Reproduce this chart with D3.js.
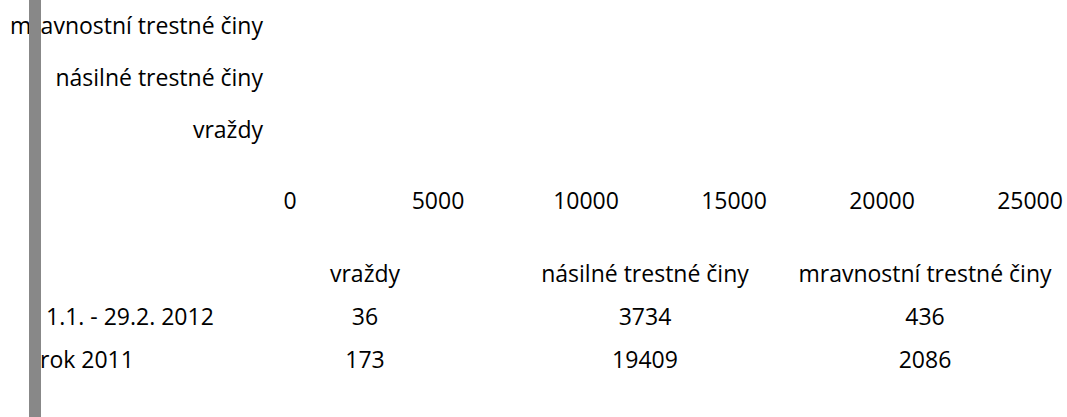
<!DOCTYPE html>
<html lang="cs">
  <head>
    <meta charset="UTF-8" />
    <title>Trestné činy 2011 - 2012</title>
    <script src="https://d3js.org/d3.v7.min.js"></script>
    <style>
      body {
        margin: 0;
        background-color: #fff;
      }
      svg text {
        font-family: "Open Sans", sans-serif;
        font-size: 23px;
        fill: #000;
        white-space: pre;
      }
    </style>
  </head>
  <body>
    <div id="chart"></div>
    <script>
      // data
      const categories = ["mravnostní trestné činy", "násilné trestné činy", "vraždy"];
      const tableColumns = ["vraždy", "násilné trestné činy", "mravnostní trestné činy"];
      const seriesNames = [" 1.1. - 29.2. 2012", "rok 2011"];
      const values2012 = [36, 3734, 436]; // vraždy, násilné, mravnostní
      const values2011 = [173, 19409, 2086];
      const tickValues = [0, 5000, 10000, 15000, 20000, 25000];

      const width = 1067;
      const height = 417;

      const svg = d3
        .select("#chart")
        .append("svg")
        .attr("width", width)
        .attr("height", height);

      // scales
      const x = d3.scaleLinear().domain([0, 25000]).range([289.5, 1029.5]);
      const y = d3.scaleBand().domain(categories).range([0, 156]);
      const ySeries = d3.scaleBand().domain(seriesNames).range([0, y.bandwidth()]).padding(0.2);

      // bars (the source chart shows them without fill)
      const allSeries = [values2012, values2011];
      allSeries.forEach((vals, si) => {
        svg
          .append("g")
          .selectAll("rect")
          .data(tableColumns)
          .join("rect")
          .attr("x", x(0))
          .attr("y", (c) => y(c) + ySeries(seriesNames[si]))
          .attr("width", (c, i) => x(vals[i]) - x(0))
          .attr("height", ySeries.bandwidth())
          .attr("fill", "none");
      });

      // category labels
      svg
        .append("g")
        .selectAll("text")
        .data(categories)
        .join("text")
        .attr("x", 263)
        .attr("y", (d) => y(d) + y.bandwidth() / 2)
        .attr("dy", "0.35em")
        .attr("text-anchor", "end")
        .text((d) => d);

      // value axis
      const axis = svg
        .append("g")
        .attr("transform", "translate(0,190)")
        .call(d3.axisBottom(x).tickValues(tickValues).tickSize(0).tickPadding(3).tickFormat(d3.format("d")));
      axis.select(".domain").remove();
      axis.selectAll("text").attr("font-family", null).attr("font-size", null);

      // data table
      const col = d3.scaleBand().domain(tableColumns).range([225, 1065]);
      const row = d3.scaleBand().domain(["", ...seriesNames]).range([252, 381]);

      svg
        .append("g")
        .selectAll("text")
        .data(tableColumns)
        .join("text")
        .attr("x", (d) => col(d) + col.bandwidth() / 2)
        .attr("y", row("") + row.bandwidth() / 2)
        .attr("dy", "0.35em")
        .attr("text-anchor", "middle")
        .text((d) => d);

      allSeries.forEach((vals, si) => {
        const name = seriesNames[si];
        const g = svg.append("g");
        g.append("text")
          .attr("x", 40)
          .attr("y", row(name) + row.bandwidth() / 2)
          .attr("dy", "0.35em")
          .text(name);
        g.selectAll("text.val")
          .data(vals)
          .join("text")
          .attr("class", "val")
          .attr("x", (d, i) => col(tableColumns[i]) + col.bandwidth() / 2)
          .attr("y", row(name) + row.bandwidth() / 2)
          .attr("dy", "0.35em")
          .attr("text-anchor", "middle")
          .text((d) => d);
      });

      // grey vertical bar on the left edge, drawn over the labels
      svg
        .append("rect")
        .attr("x", 29)
        .attr("y", 0)
        .attr("width", 12)
        .attr("height", height)
        .attr("fill", "#888888");
    </script>
  </body>
</html>
